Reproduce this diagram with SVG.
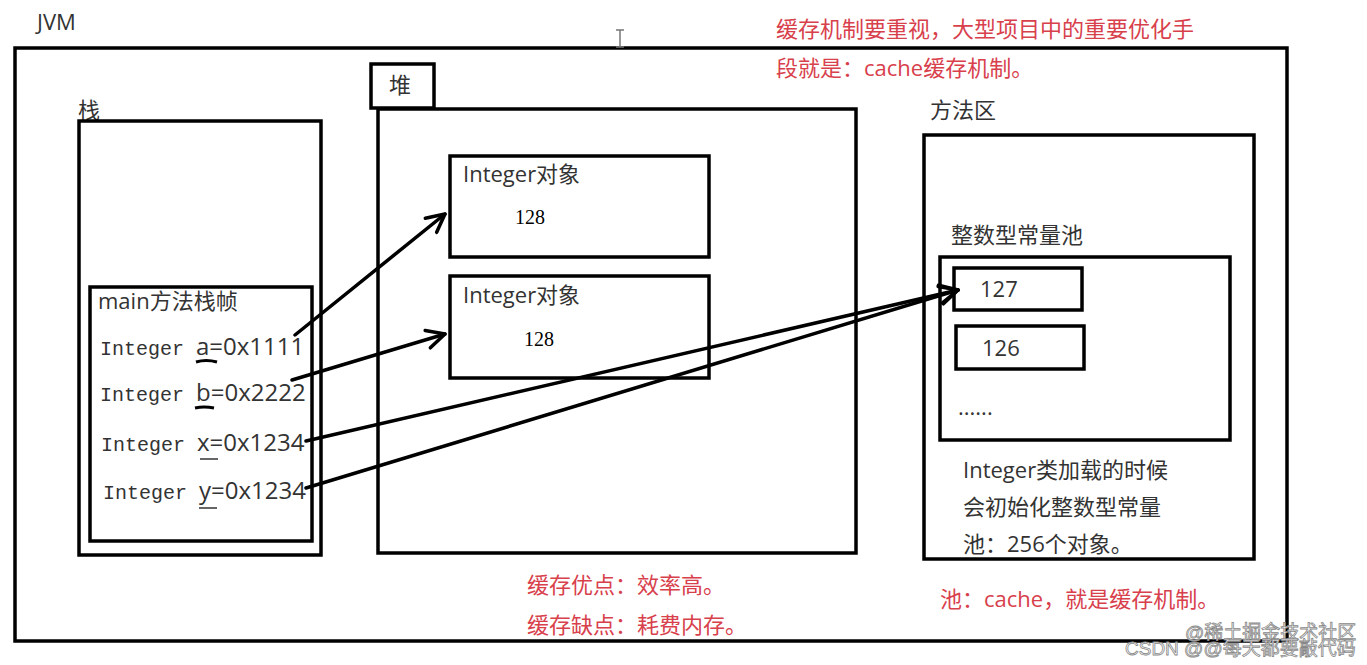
<svg xmlns="http://www.w3.org/2000/svg" width="1367" height="665" viewBox="0 0 1367 665">
<style>
.box{fill:none;stroke:#000;stroke-width:3.5}
.t{font-family:"Open Sans","Noto Sans CJK SC",sans-serif;fill:#333;font-size:22px}
.red{font-family:"Open Sans","Noto Sans CJK SC",sans-serif;fill:#d8404c;font-size:22px}
.mono{font-family:"Liberation Mono","Noto Sans CJK SC",monospace;font-size:20px}
.num{font-family:"Liberation Serif",serif;font-size:20px;fill:#000}
.con{fill:none;stroke:#000;stroke-width:3.5;stroke-linecap:round}
.wm{font-family:"Liberation Sans","Noto Sans CJK SC",sans-serif;font-size:19px;fill:#fff;stroke:#888;stroke-width:0.8}
</style>
<defs>
<marker id="arr" markerUnits="userSpaceOnUse" markerWidth="24" markerHeight="24" viewBox="0 0 24 24" refX="21" refY="12" orient="auto">
<path d="M3,3 L21,12 L3,21" fill="none" stroke="#000" stroke-width="3.5" stroke-linecap="round" stroke-linejoin="round"/>
</marker>
</defs>
<rect width="1367" height="665" fill="#fff"/>
<g id="jvm">
<text x="37" y="30" class="t" font-size="19">JVM</text>
<rect class="box" x="15" y="48" width="1272" height="593"/>
</g>
<path d="M616,30 h8 M620,30 v17 M616,47 h8" stroke="#777" stroke-width="1.5" fill="none"/>
<g id="note-top">
<text x="776" y="37" class="red" font-size="23">缓存机制要重视，大型项目中的重要优化手</text>
<text x="776" y="76" class="red" font-size="23">段就是：cache缓存机制。</text>
</g>
<g id="stack">
<text x="78" y="118" class="t" font-size="18">栈</text>
<rect class="box" x="79" y="121" width="242" height="434"/>
</g>
<g id="main-frame">
<rect class="box" x="90" y="287" width="222" height="254"/>
<text x="98" y="309" class="t">main方法栈帧</text>
<text x="100" y="355" class="t"><tspan class="mono">Integer </tspan><tspan font-size="24">a=0x1111</tspan></text>
<text x="100" y="401" class="t"><tspan class="mono">Integer </tspan><tspan font-size="24">b=0x2222</tspan></text>
<text x="101" y="451" class="t"><tspan class="mono">Integer </tspan><tspan font-size="24">x=0x1234</tspan></text>
<text x="103" y="499" class="t"><tspan class="mono">Integer </tspan><tspan font-size="24">y=0x1234</tspan></text>
<path d="M196,362 q10,-3 21,0" stroke="#000" stroke-width="3" fill="none"/>
<path d="M195,408 q9,-2 19,0" stroke="#000" stroke-width="3" fill="none"/>
<path d="M200,459 h18" stroke="#333" stroke-width="1.5"/>
<path d="M199,508 h18" stroke="#333" stroke-width="1.5"/>
</g>
<g id="heap">
<rect class="box" x="371" y="64" width="63" height="44"/>
<text x="389" y="93" class="t" font-size="20">堆</text>
<rect class="box" x="378" y="109" width="478" height="444"/>
</g>
<g id="obj1">
<rect class="box" x="450" y="156" width="259" height="101"/>
<text x="463" y="182" class="t" font-size="23">Integer对象</text>
<text x="515" y="224" class="num">128</text>
</g>
<g id="obj2">
<rect class="box" x="450" y="276" width="259" height="102"/>
<text x="463" y="303" class="t" font-size="23">Integer对象</text>
<text x="524" y="346" class="num">128</text>
</g>
<g id="heap-note">
<text x="527" y="593" class="red">缓存优点：效率高。</text>
<text x="527" y="633" class="red">缓存缺点：耗费内存。</text>
</g>
<g id="method-area">
<text x="930" y="118" class="t">方法区</text>
<rect class="box" x="924" y="135" width="330" height="424"/>
<text x="951" y="243" class="t" font-size="23">整数型常量池</text>
<text x="963" y="478" class="t" font-size="23">Integer类加载的时候</text>
<text x="963" y="515" class="t" font-size="23">会初始化整数型常量</text>
<text x="963" y="552" class="t" font-size="23">池：256个对象。</text>
</g>
<g id="pool">
<rect class="box" x="940" y="257" width="290" height="183"/>
<text x="958" y="415" class="t" font-size="16">......</text>
</g>
<g id="v127">
<rect class="box" x="954" y="268" width="128" height="42"/>
<text x="980" y="297" class="t">127</text>
</g>
<g id="v126">
<rect class="box" x="956" y="326" width="128" height="43"/>
<text x="982" y="356" class="t">126</text>
</g>
<g id="pool-note">
<text x="940" y="607" class="red" font-size="23">池：cache，就是缓存机制。</text>
</g>
<g id="connectors">
<path class="con" d="M295,335 L445,214" marker-end="url(#arr)"/>
<path class="con" d="M292,380 L445,334" marker-end="url(#arr)"/>
<path class="con" d="M306,441 L958,290" marker-end="url(#arr)"/>
<path class="con" d="M306,488 L958,290" marker-end="url(#arr)"/>
</g>
<g id="watermark">
<text x="1185" y="639" class="wm">@稀土掘金技术社区</text>
<text x="1125" y="655" class="wm">CSDN @@每天都要敲代码</text>
</g>
</svg>
